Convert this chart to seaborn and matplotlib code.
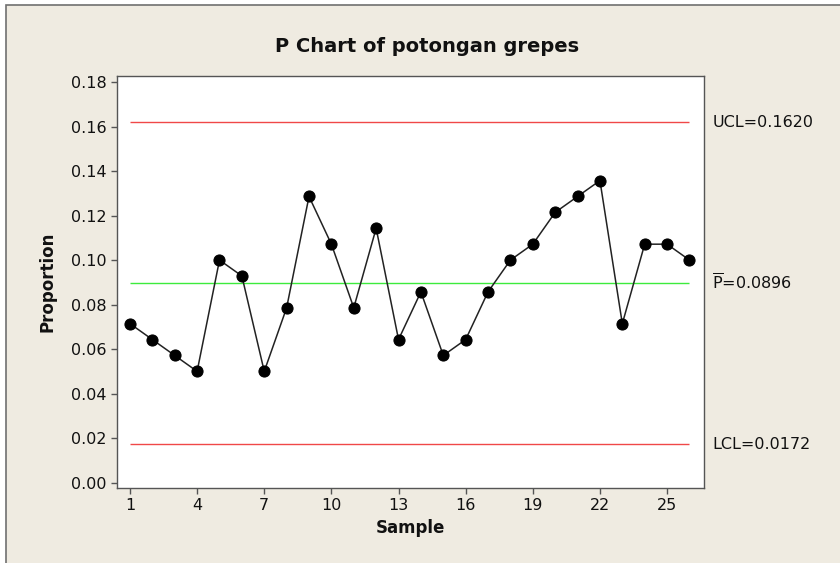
import numpy as np
import pandas as pd
import matplotlib
matplotlib.use("Agg")
import matplotlib.pyplot as plt
import seaborn as sns
from matplotlib.patches import Rectangle

# defects per sample (n = 140 each)
samples = list(range(1, 27))
defects = [10, 9, 8, 7, 14, 13, 7, 11, 18, 15, 11, 16, 9, 12, 8, 9, 12, 14, 15, 17, 18, 19, 10, 15, 15, 14]
sample_size = 140
x_ticks = [1, 4, 7, 10, 13, 16, 19, 22, 25]
y_ticks = [0.00, 0.02, 0.04, 0.06, 0.08, 0.10, 0.12, 0.14, 0.16, 0.18]

props = np.array(defects) / sample_size
p_bar = 0.0896
ucl = 0.1620
lcl = 0.0172

sns.set_style("ticks")
plt.rcParams['font.family'] = ['DejaVu Sans']
plt.rcParams['mathtext.fontset'] = 'dejavusans'
plt.rcParams['text.color'] = '#111111'
plt.rcParams['axes.labelcolor'] = '#111111'

bg = '#EFEBE1'
fig = plt.figure(figsize=(8.4, 5.63), dpi=100, facecolor='white')
# window frame
fig.add_artist(Rectangle((6 / 840, -0.01), 1.0, 1 - 5 / 563 + 0.01, transform=fig.transFigure,
                         facecolor=bg, edgecolor='#707070', linewidth=1.2, zorder=0))

ax = fig.add_axes([117 / 840, 1 - 488 / 563, (704 - 117) / 840, (488 - 76) / 563])
ax.set_facecolor('white')

df = pd.DataFrame({'Sample': samples, 'Proportion': props})

ax.hlines([ucl, lcl], samples[0], samples[-1], color='#F04848', linewidth=1.0, zorder=1)
ax.hlines([p_bar], samples[0], samples[-1], color='#3CEB3C', linewidth=1.0, zorder=1)

sns.lineplot(data=df, x='Sample', y='Proportion', ax=ax, color='#222222', linewidth=1.1,
             marker='o', markersize=8, markerfacecolor='black', markeredgecolor='black', zorder=3)

ax.set_xlim(0.42, 26.65)
ax.set_ylim(-0.0024, 0.1827)
ax.set_xticks(x_ticks)
ax.set_yticks(y_ticks)
ax.set_yticklabels([f'{v:.2f}' for v in y_ticks])
ax.tick_params(axis='both', labelsize=11.5, length=4, width=1, color='#555555', direction='out',
               labelcolor='#111111')
for s in ax.spines.values():
    s.set_color('#555555')
    s.set_linewidth(1.0)

ax.set_xlabel('Sample', fontsize=12, fontweight='bold', labelpad=4)
ax.set_ylabel('Proportion', fontsize=12, fontweight='bold', labelpad=10)

fig.text(427 / 840, 1 - 46 / 563, 'P Chart of potongan grepes', ha='center', va='center',
         fontsize=14, fontweight='bold')

trans = ax.get_yaxis_transform()
ax.text(1.014, ucl, 'UCL=0.1620', transform=trans, va='center', ha='left', fontsize=11.5, clip_on=False)
ax.text(1.014, p_bar, r'$\overline{\mathrm{P}}$=0.0896', transform=trans, va='center', ha='left',
        fontsize=11.5, clip_on=False)
ax.text(1.014, lcl, 'LCL=0.0172', transform=trans, va='center', ha='left', fontsize=11.5, clip_on=False)

fig.savefig('out.png', dpi=100, facecolor=fig.get_facecolor())
